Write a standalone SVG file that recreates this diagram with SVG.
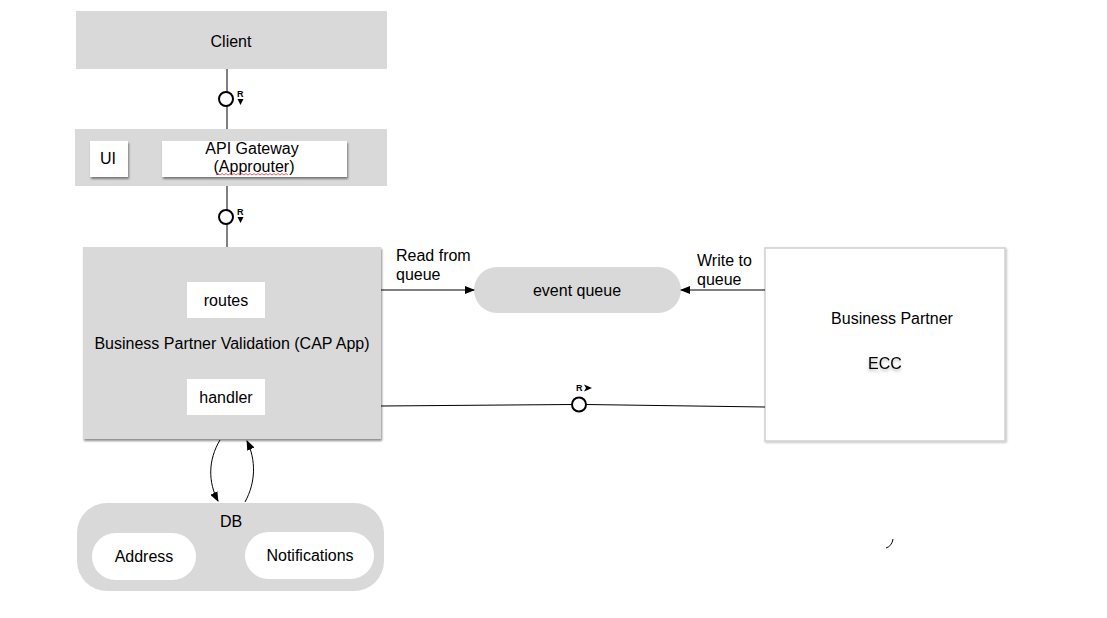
<svg xmlns="http://www.w3.org/2000/svg" width="1107" height="618" viewBox="0 0 1107 618">
  <style>
    text { font-family: "Liberation Sans", Arial, sans-serif; font-size: 16px; fill: #000; }
    .band { fill: #d9d9d9; }
    .box { fill: #ffffff; }
    .line { stroke: #000; stroke-width: 1; fill: none; }
    .ring { fill: #fff; stroke: #000; stroke-width: 2; }
    .small { font-size: 9px; font-weight: bold; }
  </style>
  <defs>
    <filter id="shadow" x="-10%" y="-10%" width="130%" height="140%">
      <feDropShadow dx="1" dy="2" stdDeviation="1.2" flood-color="#000" flood-opacity="0.45"/>
    </filter>
    <filter id="softShadow" x="-10%" y="-10%" width="130%" height="140%">
      <feDropShadow dx="1" dy="1" stdDeviation="1" flood-color="#000" flood-opacity="0.25"/>
    </filter>
    <filter id="textShadow" x="-20%" y="-20%" width="140%" height="160%">
      <feDropShadow dx="0" dy="2" stdDeviation="1.5" flood-color="#000" flood-opacity="0.3"/>
    </filter>
    <marker id="arrow" markerWidth="10" markerHeight="8" refX="9" refY="4" orient="auto" markerUnits="userSpaceOnUse">
      <path d="M0,0 L10,4 L0,8 z" fill="#000"/>
    </marker>
  </defs>

  <!-- Client -->
  <g id="client">
    <rect class="band" x="76" y="11" width="311" height="58"/>
    <text x="231" y="47" text-anchor="middle">Client</text>
  </g>

  <!-- API Gateway band -->
  <g id="gateway">
    <rect class="band" x="75" y="129" width="312" height="57"/>
    <rect class="box" x="90" y="141" width="38" height="36" filter="url(#shadow)"/>
    <text x="108" y="164" text-anchor="middle">UI</text>
    <rect class="box" x="162" y="141" width="185" height="36" filter="url(#shadow)"/>
    <text x="252" y="154" text-anchor="middle">API Gateway</text>
    <text x="254" y="172" text-anchor="middle">(Approuter)</text>
    <path d="M216,175 l2,-1.5 l2,1.5 l2,-1.5 l2,1.5 l2,-1.5 l2,1.5 l2,-1.5 l2,1.5 l2,-1.5 l2,1.5 l2,-1.5 l2,1.5 l2,-1.5 l2,1.5 l2,-1.5 l2,1.5 l2,-1.5 l2,1.5 l2,-1.5 l2,1.5 l2,-1.5 l2,1.5 l2,-1.5 l2,1.5 l2,-1.5 l2,1.5 l2,-1.5 l2,1.5 l2,-1.5 l2,1.5 l2,-1.5 l2,1.5 l2,-1.5 l2,1.5 l2,-1.5 l2,1.5" stroke="#e0383e" stroke-width="0.8" fill="none"/>
  </g>

  <!-- CAP application -->
  <g id="cap-app">
    <rect class="band" x="83" y="247" width="298" height="192" filter="url(#shadow)"/>
    <rect class="box" x="187" y="282" width="78" height="36"/>
    <text x="226" y="306" text-anchor="middle">routes</text>
    <text x="232" y="349" text-anchor="middle">Business Partner Validation (CAP App)</text>
    <rect class="box" x="187" y="379" width="78" height="36"/>
    <text x="226" y="403" text-anchor="middle">handler</text>
  </g>

  <!-- Event queue -->
  <g id="event-queue">
    <rect class="band" x="474" y="267" width="207" height="46" rx="23"/>
    <text x="577" y="296" text-anchor="middle">event queue</text>
  </g>

  <!-- Business Partner ECC -->
  <g id="business-partner">
    <rect x="765" y="248" width="240" height="193" fill="#fff" stroke="#d0d0d0" stroke-width="1.5" filter="url(#softShadow)"/>
    <text x="892" y="324" text-anchor="middle">Business Partner</text>
    <text x="885" y="369" text-anchor="middle" filter="url(#textShadow)">ECC</text>
  </g>

  <!-- Database -->
  <g id="db">
    <rect class="band" x="77" y="503" width="307" height="88" rx="30"/>
    <text x="231" y="527" text-anchor="middle">DB</text>
    <rect class="box" x="92" y="533" width="104" height="47" rx="23.5"/>
    <text x="144" y="562" text-anchor="middle">Address</text>
    <rect class="box" x="245" y="532" width="129" height="47" rx="23.5"/>
    <text x="310" y="561" text-anchor="middle">Notifications</text>
  </g>

  <!-- Connectors -->
  <g id="connectors">
    <!-- Client to gateway -->
    <line class="line" x1="227" y1="69" x2="227" y2="129"/>
    <circle class="ring" cx="226" cy="99" r="7"/>
    <text class="small" x="237" y="97">R</text>
    <path d="M237.5,99 L243.5,99 L240.5,105 z" fill="#000"/>

    <!-- Gateway to CAP app -->
    <line class="line" x1="227" y1="186" x2="227" y2="247"/>
    <circle class="ring" cx="226" cy="217" r="7"/>
    <text class="small" x="237" y="215">R</text>
    <path d="M237.5,217 L243.5,217 L240.5,223 z" fill="#000"/>

    <!-- Read from queue -->
    <line class="line" x1="381" y1="290" x2="474" y2="290" marker-end="url(#arrow)"/>
    <text x="396" y="261">Read from</text>
    <text x="396" y="280">queue</text>

    <!-- Write to queue -->
    <line class="line" x1="765" y1="290" x2="681" y2="290" marker-end="url(#arrow)"/>
    <text x="697" y="266">Write to</text>
    <text x="697" y="285">queue</text>

    <!-- Handler to ECC -->
    <line class="line" x1="381" y1="406" x2="572" y2="404.5"/>
    <line class="line" x1="586" y1="404.5" x2="765" y2="407"/>
    <circle class="ring" cx="579" cy="404.5" r="7"/>
    <text class="small" x="576" y="391">R</text>
    <path d="M584,384.5 L592,388 L584,391.5 L586,388 z" fill="#000"/>

    <!-- CAP app to DB and back -->
    <path class="line" d="M220,440 C208,460 208,482 218,501" marker-end="url(#arrow)"/>
    <path class="line" d="M245,502 C256,482 256,460 247,441" marker-end="url(#arrow)"/>

    <!-- stray arc -->
    <path class="line" d="M893,539 Q892,546 886,548" stroke-width="1.2"/>
  </g>
</svg>
